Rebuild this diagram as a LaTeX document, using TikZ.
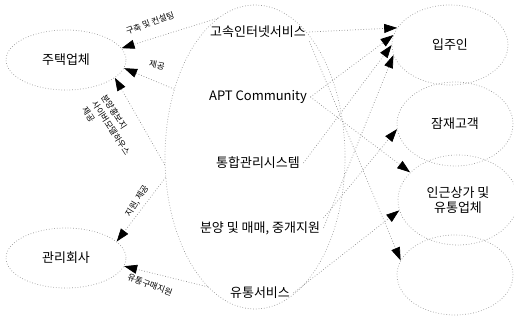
\documentclass[tikz,border=0pt]{standalone}
\usepackage{fontspec}
\setmainfont{Noto Sans CJK KR}
\usetikzlibrary{arrows.meta, shapes.geometric}

\begin{document}
\begin{tikzpicture}[x=1pt, y=-1pt,
		every node/.style={font=\fontsize{13}{15}\selectfont},
		blob/.style={draw=black!40, dotted, line width=.7pt, ellipse, inner sep=0pt},
		link/.style={draw=black!45, dotted, line width=.7pt, -{Triangle[length=13pt, width=9pt, color=black]}},
		tag/.style={font=\fontsize{8.5}{11.5}\selectfont, inner sep=0pt}]
			\useasboundingbox (0,0) rectangle (514,325);

			\node[blob, minimum width=120pt, minimum height=60pt] (housing) at (66,60) {주택업체};
			\node[blob, minimum width=120pt, minimum height=60pt] (mgmt) at (66,258) {관리회사};
			\node[blob, minimum width=180pt, minimum height=304pt] (core) at (255,157) {};

			\node (internet) at (258,32) {고속인터넷서비스};
			\node (community) at (258,97) {APT Community};
			\node (system) at (258,163) {통합관리시스템};
			\node (sales) at (260,228) {분양 및 매매, 중개지원};
			\node (distrib) at (260,293) {유통서비스};

			\node[blob, minimum width=116pt, minimum height=80pt] (resident) at (450,45) {입주인};
			\node[blob, minimum width=116pt, minimum height=84pt] (prospect) at (455,124) {잠재고객};
			\node[blob, minimum width=120pt, minimum height=90pt, align=center] (shops) at (458,200) {인근상가 및\\유통업체};
			\node[blob, minimum width=116pt, minimum height=80pt] (extra) at (455,275) {};

			% left side
			\draw[link] (core.105) -- (housing.12);
			\draw[link] (core.140) -- (housing.-8);
			\draw[link] (core.185) -- (housing.-20);
			\draw[link] (core.193) -- (mgmt.18);
			\draw[link] (core.250) -- (mgmt.-8);

			\node[tag, rotate=20] (lbuild) at (150,23) {구축 및 컨설팅};
			\node[tag, rotate=-12] (lgive) at (157,65) {제공};
			\node[tag, rotate=-57, align=left] (lpromo) at (111,128) {분양홍보지\\사이버모델하우스\\제공};
			\node[tag, rotate=58] (lsupport) at (137,201) {지원, 제공};
			\node[tag, rotate=-20] (lbuy) at (150,285) {유통구매지원};

			% right side
			\draw[link] (internet.east) -- (resident.162);
			\draw[link] (community.east) -- (resident.170);
			\draw[link] (system.east) -- (resident.180);
			\draw[link] (sales.east) -- (resident.190);
			\draw[link] (sales.north east) -- (prospect.185);
			\draw[link] (community.east) -- (shops.150);
			\draw[link] (distrib.east) -- (shops.190);
			\draw[link] (internet.south east) -- (extra.165);
		\end{tikzpicture}
\end{document}
